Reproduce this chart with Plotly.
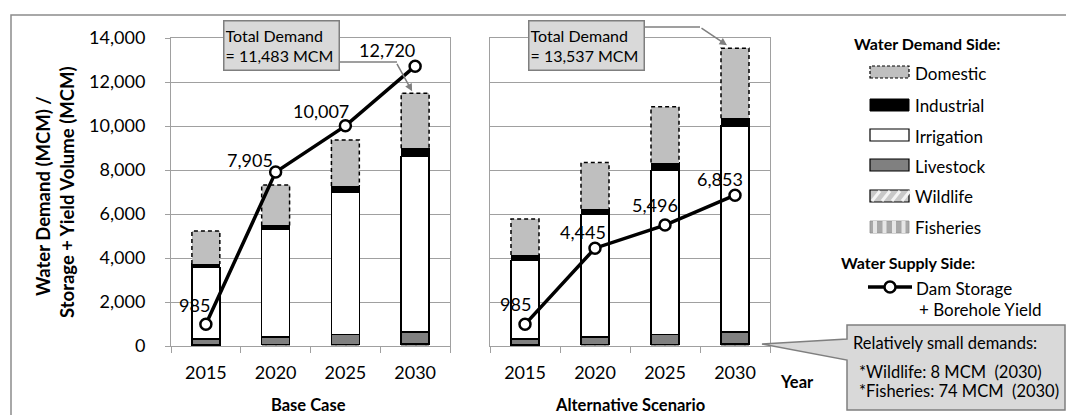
import plotly.graph_objects as go

# ---- data (MCM) ----
years = ["2015", "2020", "2025", "2030"]

base_livestock = [280, 360, 450, 560]
base_wildlife = [8, 8, 8, 8]
base_fisheries = [40, 50, 60, 74]
base_irrigation = [3250, 4870, 6490, 7970]
base_industrial = [150, 190, 270, 380]
base_domestic = [1500, 1840, 2080, 2491]
base_supply = [985, 7905, 10007, 12720]

alt_livestock = [280, 360, 450, 560]
alt_wildlife = [8, 8, 8, 8]
alt_fisheries = [40, 50, 60, 74]
alt_irrigation = [3550, 5560, 7470, 9360]
alt_industrial = [260, 260, 350, 350]
alt_domestic = [1630, 2100, 2540, 3185]
alt_supply = [985, 4445, 5496, 6853]

# ---- page geometry (pixels) ----
W, H = 1066, 415
L, R, T, B = 171, 296, 38, 69
PW, PH = W - L - R, H - T - B


def px(x):
    return (x - L) / PW


def py(y):
    return (H - B - y) / PH


GRID = "#a0a0a0"
FONT = "Lato, 'Open Sans', sans-serif"
BAR_W = 0.4
xs = list(range(len(years)))

fig = go.Figure()
ann = []
shapes = []


def add_panel(xa, ya, livestock, wildlife, fisheries, irrigation, industrial,
              domestic, supply, label_offsets):
    common = dict(x=xs, width=BAR_W, xaxis=xa, yaxis=ya, showlegend=False,
                  hoverinfo="skip")
    fig.add_bar(y=fisheries, marker=dict(color="#a0a0a0",
                pattern=dict(shape="|", fgcolor="#707070"),
                line=dict(width=0)), **common)
    fig.add_bar(y=wildlife, marker=dict(color="#d0d0d0",
                pattern=dict(shape="/", fgcolor="#606060"),
                line=dict(width=0)), **common)
    fig.add_bar(y=livestock, marker=dict(color="#808080",
                line=dict(color="black", width=1.5)), **common)
    fig.add_bar(y=irrigation, marker=dict(color="white",
                line=dict(color="black", width=1.5)), **common)
    fig.add_bar(y=industrial, marker=dict(color="black",
                line=dict(color="black", width=1)), **common)
    fig.add_bar(y=domestic, marker=dict(color="#bfbfbf",
                line=dict(width=0)), **common)

    # dashed outline around the domestic segment of each column
    ox, oy = [], []
    for i in xs:
        lo = livestock[i] + wildlife[i] + fisheries[i] + irrigation[i] + industrial[i]
        hi = lo + domestic[i]
        x0, x1 = i - BAR_W / 2, i + BAR_W / 2
        ox += [x0, x0, x1, x1, None]
        oy += [lo, hi, hi, lo, None]
    fig.add_scatter(x=ox, y=oy, mode="lines", xaxis=xa, yaxis=ya,
                    line=dict(color="black", width=1.5, dash="4px,3px"),
                    showlegend=False, hoverinfo="skip")

    # supply line
    fig.add_scatter(x=xs, y=supply, mode="lines+markers", xaxis=xa, yaxis=ya,
                    line=dict(color="black", width=3.5),
                    marker=dict(size=11, color="white",
                                line=dict(color="black", width=2.5)),
                    showlegend=False, hoverinfo="skip")
    for i, v in enumerate(supply):
        dx, dy = label_offsets[i]
        ann.append(dict(x=i, y=v, xref=xa, yref=ya, text=f"{v:,}",
                        showarrow=False, xshift=dx, yshift=dy,
                        xanchor="center", yanchor="middle",
                        font=dict(size=18)))


add_panel("x", "y", base_livestock, base_wildlife, base_fisheries,
          base_irrigation, base_industrial, base_domestic, base_supply,
          [(-11, 19), (-26, 12), (-24, 15), (-28, 16)])
add_panel("x2", "y2", alt_livestock, alt_wildlife, alt_fisheries,
          alt_irrigation, alt_industrial, alt_domestic, alt_supply,
          [(-10, 20), (-12, 16), (-10, 20), (-15, 16)])

xaxis_common = dict(
    range=[-0.5, 3.5], tickmode="array", tickvals=xs, ticktext=years,
    ticks="", showgrid=False, showline=True, linecolor=GRID, linewidth=1,
    mirror=True, zeroline=False, ticklabelstandoff=10,
    tickfont=dict(size=18, color="black", family=FONT),
    minor=dict(tickmode="array", tickvals=[-0.5, 0.5, 1.5, 2.5, 3.5],
               ticks="outside", ticklen=6, tickcolor=GRID, showgrid=False),
)
yaxis_common = dict(
    range=[0, 14000], tickvals=list(range(0, 14001, 2000)),
    showgrid=True, gridcolor=GRID, gridwidth=1, zeroline=False,
    showline=True, linecolor=GRID, linewidth=1, mirror=True,
)

fig.update_layout(
    width=W, height=H, margin=dict(l=L, r=R, t=T, b=B),
    paper_bgcolor="white", plot_bgcolor="white", barmode="stack",
    bargap=0.6, font=dict(family=FONT, color="black"),
    xaxis=dict(domain=[0, 279 / PW], anchor="y", **xaxis_common),
    xaxis2=dict(domain=[319 / PW, 1], anchor="y2", **xaxis_common),
    yaxis=dict(anchor="x", ticks="outside", ticklen=5, tickcolor=GRID,
               tickformat=",d", ticklabelstandoff=16,
               tickfont=dict(size=18, color="black", family=FONT),
               **yaxis_common),
    yaxis2=dict(anchor="x2", matches="y", showticklabels=False, ticks="",
                **yaxis_common),
)

# outer frame
shapes.append(dict(type="rect", xref="paper", yref="paper",
                   x0=px(11), x1=px(1075), y0=py(425), y1=py(15),
                   line=dict(color="#8c8c8c", width=1.5), layer="below"))

# axis titles
ann.append(dict(x=px(43), y=py(196), text="<b>Water Demand (MCM) /</b>",
                textangle=-90, font=dict(size=18.5)))
ann.append(dict(x=px(67), y=py(192), text="<b>Storage + Yield Volume (MCM)</b>",
                textangle=-90, font=dict(size=18.5)))
ann.append(dict(x=px(308), y=py(405), text="<b>Base Case</b>", font=dict(size=16.5)))
ann.append(dict(x=px(630), y=py(405), text="<b>Alternative Scenario</b>",
                font=dict(size=16.5)))
ann.append(dict(x=px(797), y=py(382), text="<b>Year</b>", font=dict(size=16.5)))

# total-demand callouts
base_total = sum(v[3] for v in (base_livestock, base_wildlife, base_fisheries,
                                base_irrigation, base_industrial, base_domestic))
alt_total = sum(v[3] for v in (alt_livestock, alt_wildlife, alt_fisheries,
                               alt_irrigation, alt_industrial, alt_domestic))

for cx, total in ((281.5, base_total), (586.5, alt_total)):
    ann.append(dict(x=px(cx), y=py(45.5), text=f"Total Demand<br>= {total:,} MCM",
                    align="left", bgcolor="#d9d9d9", bordercolor="#7f7f7f",
                    borderwidth=1.5, borderpad=1, width=112, height=46,
                    font=dict(size=16)))

shapes.append(dict(type="line", xref="paper", yref="paper", x0=px(339), x1=px(397),
                   y0=py(62), y1=py(62), line=dict(color="#7f7f7f", width=1.5)))
shapes.append(dict(type="line", xref="paper", yref="paper", x0=px(645), x1=px(700),
                   y0=py(27), y1=py(27), line=dict(color="#7f7f7f", width=1.5)))
arrow_style = dict(showarrow=True, text="", arrowhead=2, arrowsize=1,
                   arrowwidth=1.5, arrowcolor="#7f7f7f", standoff=0,
                   axref="pixel", ayref="pixel")
ann.append(dict(x=3, y=base_total, xref="x", yref="y", xshift=-3, yshift=2,
                ax=-16, ay=-29, **arrow_style))
ann.append(dict(x=3, y=alt_total, xref="x2", yref="y2", xshift=-8, yshift=3,
                ax=-27, ay=-18, **arrow_style))

# legend: demand side
ann.append(dict(x=px(927), y=py(43), text="<b>Water Demand Side:</b>",
                font=dict(size=16)))
legend_rows = [
    ("Domestic", 72, dict(fillcolor="#bfbfbf",
                          line=dict(color="black", width=1.2, dash="3px,2px"))),
    ("Industrial", 105, dict(fillcolor="black", line=dict(color="black", width=1))),
    ("Irrigation", 135, dict(fillcolor="white", line=dict(color="black", width=1.2))),
    ("Livestock", 165, dict(fillcolor="#808080", line=dict(color="black", width=1.2))),
    ("Wildlife", 196, dict(fillcolor="#c8c8c8", line=dict(color="black", width=1.2))),
    ("Fisheries", 227, dict(fillcolor="#a8a8a8", line=dict(color="#909090", width=0.8))),
]
for name, cy, style in legend_rows:
    shapes.append(dict(type="rect", xref="paper", yref="paper",
                       x0=px(870), x1=px(909), y0=py(cy + 6), y1=py(cy - 6), **style))
    ann.append(dict(x=px(913), y=py(cy + 1), text=name, xanchor="left",
                    font=dict(size=17)))

# wildlife swatch hatching
for k in range(4):
    x0 = 872 + k * 10
    shapes.append(dict(type="line", xref="paper", yref="paper",
                       x0=px(x0), x1=px(x0 + 8), y0=py(201), y1=py(191),
                       line=dict(color="#f4f4f4", width=3)))
# fisheries swatch stripes
for k in range(4):
    x0 = 873 + k * 9.5
    shapes.append(dict(type="rect", xref="paper", yref="paper",
                       x0=px(x0), x1=px(x0 + 4), y0=py(233), y1=py(221),
                       fillcolor="#e6e6e6", line=dict(width=0)))

# legend: supply side
ann.append(dict(x=px(908), y=py(262), text="<b>Water Supply Side:</b>",
                font=dict(size=16)))
shapes.append(dict(type="line", xref="paper", yref="paper", x0=px(868), x1=px(912),
                   y0=py(287), y1=py(287), line=dict(color="black", width=3.5)))
shapes.append(dict(type="circle", xref="paper", yref="paper",
                   x0=px(884.5), x1=px(895.5), y0=py(292.5), y1=py(281.5),
                   fillcolor="white", line=dict(color="black", width=2.5)))
ann.append(dict(x=px(914), y=py(288), text="Dam Storage", xanchor="left",
                font=dict(size=17)))
ann.append(dict(x=px(917), y=py(309), text="+ Borehole Yield", xanchor="left",
                font=dict(size=17)))

# small-demand callout with pointer to the base of the columns
pts = [(847, 325), (1065, 325), (1065, 410), (847, 410), (847, 360),
       (762, 344), (847, 339)]
path = "M " + " L ".join(f"{px(a):.5f},{py(b):.5f}" for a, b in pts) + " Z"
shapes.append(dict(type="path", xref="paper", yref="paper", path=path,
                   fillcolor="#d9d9d9", line=dict(color="#7f7f7f", width=1.5)))
ann.append(dict(x=px(851), y=py(343), text="Relatively small demands:",
                xanchor="left", font=dict(size=16.5)))
ann.append(dict(x=px(857), y=py(372),
                text=f"*Wildlife: {base_wildlife[3]} MCM  (2030)",
                xanchor="left", font=dict(size=16.5)))
ann.append(dict(x=px(857), y=py(391),
                text=f"*Fisheries: {base_fisheries[3]} MCM  (2030)",
                xanchor="left", font=dict(size=16.5)))

for a in ann:
    a.setdefault("xref", "paper")
    a.setdefault("yref", "paper")
    a.setdefault("showarrow", False)
    if not a["showarrow"]:
        a.setdefault("xanchor", "center")
        a.setdefault("yanchor", "middle")
    f = a.setdefault("font", {})
    f.setdefault("family", FONT)
    f.setdefault("color", "black")

fig.layout.shapes = shapes
fig.layout.annotations = ann
fig.write_html("out.html")
